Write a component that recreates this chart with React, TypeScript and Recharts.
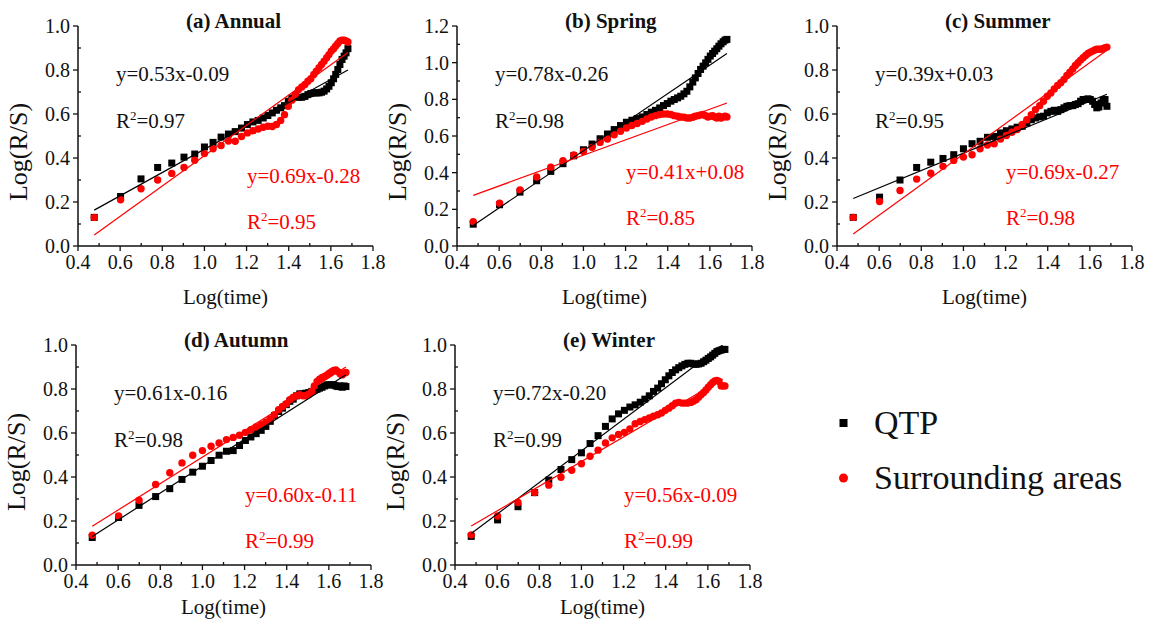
import React from "react";
import { ScatterChart, Scatter, XAxis, YAxis } from "recharts";

// log10 of the window length (3..48)
const logTime = [
  0.477, 0.602, 0.699, 0.778, 0.845, 0.903, 0.954, 1.0, 1.041, 1.079, 1.114,
  1.146, 1.176, 1.204, 1.23, 1.255, 1.279, 1.301, 1.322, 1.342, 1.362, 1.38,
  1.398, 1.415, 1.431, 1.447, 1.462, 1.477, 1.491, 1.505, 1.519, 1.531, 1.544,
  1.556, 1.568, 1.58, 1.591, 1.602, 1.613, 1.623, 1.633, 1.643, 1.653, 1.663,
  1.672, 1.681,
];

const annualQtp = [
  0.13, 0.225, 0.305, 0.357, 0.377, 0.404, 0.418, 0.45, 0.471, 0.495, 0.509,
  0.52, 0.536, 0.552, 0.564, 0.571, 0.582, 0.593, 0.605, 0.617, 0.628, 0.638,
  0.658, 0.672, 0.678, 0.676, 0.676, 0.68, 0.688, 0.693, 0.696, 0.696, 0.696,
  0.699, 0.704, 0.714, 0.726, 0.742, 0.76, 0.78, 0.802, 0.825, 0.848, 0.863,
  0.878, 0.897,
];
const annualSur = [
  0.13, 0.21, 0.26, 0.3, 0.33, 0.357, 0.39, 0.42, 0.442, 0.457, 0.477, 0.476,
  0.498, 0.514, 0.524, 0.532, 0.54, 0.544, 0.543, 0.552, 0.571, 0.597, 0.635,
  0.663, 0.688, 0.711, 0.723, 0.734, 0.749, 0.76, 0.78, 0.795, 0.81, 0.825,
  0.84, 0.856, 0.87, 0.886, 0.897, 0.909, 0.921, 0.932, 0.936, 0.935, 0.932,
  0.927,
];

const springQtp = [
  0.119, 0.225, 0.294, 0.356, 0.407, 0.449, 0.492, 0.525, 0.556, 0.585, 0.611,
  0.635, 0.657, 0.675, 0.686, 0.695, 0.704, 0.717, 0.73, 0.74, 0.753, 0.766,
  0.777, 0.79, 0.799, 0.808, 0.817, 0.83, 0.844, 0.868, 0.894, 0.917, 0.941,
  0.963, 0.981, 0.999, 1.018, 1.036, 1.05, 1.063, 1.076, 1.09, 1.103, 1.114,
  1.123, 1.127,
];
const springSur = [
  0.133, 0.233, 0.306, 0.376, 0.43, 0.465, 0.496, 0.516, 0.538, 0.565, 0.584,
  0.607, 0.626, 0.644, 0.657, 0.668, 0.68, 0.693, 0.704, 0.711, 0.717, 0.72,
  0.72, 0.717, 0.711, 0.708, 0.704, 0.702, 0.698, 0.698, 0.702, 0.708, 0.711,
  0.715, 0.717, 0.711, 0.704, 0.708, 0.711, 0.704, 0.698, 0.708, 0.698, 0.704,
  0.708, 0.704,
];

const summerQtp = [
  0.13, 0.222, 0.3, 0.357, 0.381, 0.398, 0.415, 0.442, 0.465, 0.476, 0.494,
  0.498, 0.514, 0.524, 0.532, 0.54, 0.544, 0.559, 0.574, 0.582, 0.587, 0.59,
  0.605, 0.612, 0.617, 0.612, 0.62, 0.628, 0.635, 0.638, 0.638, 0.643, 0.647,
  0.658, 0.666, 0.666, 0.669, 0.666, 0.658, 0.643, 0.628, 0.632, 0.65, 0.663,
  0.666, 0.635,
];
const summerSur = [
  0.13, 0.202, 0.252, 0.304, 0.331, 0.362, 0.389, 0.404, 0.415, 0.442, 0.459,
  0.465, 0.486, 0.502, 0.517, 0.529, 0.552, 0.574, 0.597, 0.62, 0.638, 0.658,
  0.681, 0.696, 0.714, 0.73, 0.742, 0.757, 0.775, 0.79, 0.805, 0.821, 0.833,
  0.845, 0.856, 0.866, 0.875, 0.881, 0.886, 0.891, 0.894, 0.894, 0.894, 0.897,
  0.901, 0.904,
];

const autumnQtp = [
  0.125, 0.216, 0.271, 0.311, 0.347, 0.389, 0.422, 0.449, 0.475, 0.499, 0.517,
  0.52, 0.543, 0.566, 0.582, 0.597, 0.612, 0.63, 0.653, 0.679, 0.698, 0.713,
  0.729, 0.744, 0.754, 0.769, 0.778, 0.778, 0.781, 0.784, 0.789, 0.796, 0.799,
  0.804, 0.808, 0.814, 0.819, 0.819, 0.819, 0.819, 0.814, 0.811, 0.814, 0.808,
  0.814, 0.811,
];
const autumnSur = [
  0.136, 0.223, 0.294, 0.366, 0.419, 0.464, 0.499, 0.52, 0.54, 0.555, 0.57,
  0.58, 0.59, 0.603, 0.615, 0.627, 0.638, 0.649, 0.664, 0.683, 0.706, 0.721,
  0.733, 0.751, 0.763, 0.769, 0.774, 0.769, 0.769, 0.774, 0.789, 0.814, 0.834,
  0.845, 0.852, 0.857, 0.864, 0.872, 0.879, 0.884, 0.887, 0.879, 0.869, 0.864,
  0.872, 0.875,
];

const winterQtp = [
  0.13, 0.205, 0.265, 0.329, 0.386, 0.434, 0.479, 0.51, 0.552, 0.588, 0.63,
  0.664, 0.687, 0.703, 0.718, 0.728, 0.74, 0.754, 0.769, 0.789, 0.804, 0.824,
  0.842, 0.86, 0.875, 0.887, 0.897, 0.905, 0.912, 0.917, 0.917, 0.914, 0.912,
  0.914, 0.917, 0.924, 0.931, 0.939, 0.946, 0.954, 0.962, 0.97, 0.974, 0.977,
  0.98, 0.98,
];
const winterSur = [
  0.137, 0.223, 0.284, 0.329, 0.363, 0.399, 0.431, 0.46, 0.494, 0.522, 0.555,
  0.578, 0.593, 0.603, 0.618, 0.642, 0.652, 0.661, 0.668, 0.676, 0.683, 0.691,
  0.703, 0.713, 0.724, 0.736, 0.739, 0.736, 0.736, 0.736, 0.739, 0.744, 0.751,
  0.763, 0.774, 0.784, 0.796, 0.808, 0.819, 0.83, 0.837, 0.839, 0.834, 0.814,
  0.814, 0.814,
];

// fitted lines, end points
const annualFitQtp = [[0.477, 0.163], [1.681, 0.8]];
const annualFitSur = [[0.477, 0.05], [1.681, 0.88]];
const springFitQtp = [[0.477, 0.112], [1.681, 1.05]];
const springFitSur = [[0.477, 0.276], [1.681, 0.78]];
const summerFitQtp = [[0.477, 0.216], [1.681, 0.69]];
const summerFitSur = [[0.477, 0.055], [1.681, 0.89]];
const autumnFitQtp = [[0.477, 0.13], [1.681, 0.865]];
const autumnFitSur = [[0.477, 0.176], [1.681, 0.9]];
const winterFitQtp = [[0.477, 0.143], [1.67, 1.0]];
const winterFitSur = [[0.477, 0.177], [1.67, 0.845]];

const xTicks = [0.4, 0.5, 0.6, 0.7, 0.8, 0.9, 1.0, 1.1, 1.2, 1.3, 1.4, 1.5, 1.6, 1.7, 1.8];
const yTicks10 = [0, 0.1, 0.2, 0.3, 0.4, 0.5, 0.6, 0.7, 0.8, 0.9, 1.0];
const yTicks12 = [0, 0.1, 0.2, 0.3, 0.4, 0.5, 0.6, 0.7, 0.8, 0.9, 1.0, 1.1, 1.2];

const FONT = '"Liberation Serif", "Times New Roman", serif';
const RED = "#ff0000";
const INK = "#111";

const toPoints = (ys: number[]) => logTime.map((x, i) => ({ x, y: ys[i] }));
const toLine = (pts: number[][]) => pts.map(([x, y]) => ({ x, y }));
const isMajor = (v: number) => Math.round(v * 10) % 2 === 0;

const XTick = (props: any) => {
  const { x, y, payload } = props;
  const major = isMajor(payload.value);
  return (
    <g>
      <line x1={x} x2={x} y1={y} y2={major ? y + 5 : y - 3} stroke={INK} strokeWidth={1.3} />
      {major && (
        <text x={x} y={y + 23} textAnchor="middle" fontFamily={FONT} fontSize={20} fill={INK}>
          {payload.value.toFixed(1)}
        </text>
      )}
    </g>
  );
};

const YTick = (props: any) => {
  const { x, y, payload } = props;
  const major = isMajor(payload.value);
  return (
    <g>
      <line x1={x} x2={major ? x - 5 : x + 3} y1={y} y2={y} stroke={INK} strokeWidth={1.3} />
      {major && (
        <text x={x - 8} y={y + 7} textAnchor="end" fontFamily={FONT} fontSize={20} fill={INK}>
          {payload.value.toFixed(1)}
        </text>
      )}
    </g>
  );
};

const Square = (props: any) => (
  <rect x={props.cx - 3.5} y={props.cy - 3.5} width={7} height={7} fill="#000" />
);
const Dot = (props: any) => <circle cx={props.cx} cy={props.cy} r={3.7} fill={RED} />;
const NoShape = () => <g />;

type PanelProps = {
  title: string;
  left: number;
  top: number;
  yMax: number;
  qtp: number[];
  sur: number[];
  fitQtp: number[][];
  fitSur: number[][];
  eqQtp: string;
  r2Qtp: string;
  eqSur: string;
  r2Sur: string;
  redDy: number;
  xTitleDy: number;
  yTitleY: number;
};

const PLOT_W = 295;
const PLOT_H = 220;
const Y_W = 60;
const RIGHT = 24;

const Eq: React.FC<{ x: number; y: number; color: string; children: React.ReactNode }> = ({ x, y, color, children }) => (
  <div
    style={{
      position: "absolute",
      left: x,
      top: y,
      transform: "translateY(-50%)",
      color,
      fontFamily: FONT,
      fontSize: 21,
      lineHeight: 1,
      whiteSpace: "nowrap",
    }}
  >
    {children}
  </div>
);

const R2: React.FC<{ value: string }> = ({ value }) => (
  <>
    R<span style={{ fontSize: 13, position: "relative", top: -8 }}>2</span>={value}
  </>
);

const Panel: React.FC<PanelProps> = (p) => {
  const yTicks = p.yMax > 1.05 ? yTicks12 : yTicks10;
  return (
    <>
      <div style={{ position: "absolute", left: p.left - Y_W, top: p.top - 10 }}>
        <ScatterChart
          width={Y_W + PLOT_W + RIGHT}
          height={PLOT_H + 10 + 30}
          margin={{ top: 10, right: RIGHT, bottom: 0, left: 0 }}
        >
          <XAxis
            type="number"
            dataKey="x"
            domain={[0.4, 1.8]}
            ticks={xTicks}
            interval={0}
            height={30}
            tickSize={0}
            tickMargin={0}
            tickLine={false}
            axisLine={{ stroke: INK, strokeWidth: 1.5 }}
            tick={<XTick />}
            allowDataOverflow
          />
          <YAxis
            type="number"
            dataKey="y"
            domain={[0, p.yMax]}
            ticks={yTicks}
            interval={0}
            width={Y_W}
            tickSize={0}
            tickMargin={0}
            tickLine={false}
            axisLine={{ stroke: INK, strokeWidth: 1.5 }}
            tick={<YTick />}
            allowDataOverflow
          />
          <Scatter data={toPoints(p.qtp)} shape={<Square />} isAnimationActive={false} />
          <Scatter data={toPoints(p.sur)} shape={<Dot />} isAnimationActive={false} />
          <Scatter
            data={toLine(p.fitQtp)}
            line={{ stroke: "#000", strokeWidth: 1.2 }}
            shape={<NoShape />}
            isAnimationActive={false}
          />
          <Scatter
            data={toLine(p.fitSur)}
            line={{ stroke: RED, strokeWidth: 1.2 }}
            shape={<NoShape />}
            isAnimationActive={false}
          />
        </ScatterChart>
      </div>
      <div
        style={{
          position: "absolute",
          left: p.left + 108,
          top: p.top - 5,
          transform: "translateY(-50%)",
          fontFamily: FONT,
          fontWeight: "bold",
          fontSize: 21,
          lineHeight: 1,
          whiteSpace: "nowrap",
          color: INK,
        }}
      >
        {p.title}
      </div>
      <Eq x={p.left + 38} y={p.top + 48} color={INK}>{p.eqQtp}</Eq>
      <Eq x={p.left + 38} y={p.top + 95} color={INK}><R2 value={p.r2Qtp} /></Eq>
      <Eq x={p.left + 169} y={p.top + p.redDy} color={RED}>{p.eqSur}</Eq>
      <Eq x={p.left + 169} y={p.top + p.redDy + 46} color={RED}><R2 value={p.r2Sur} /></Eq>
      <div
        style={{
          position: "absolute",
          left: p.left + PLOT_W / 2,
          top: p.top + PLOT_H + p.xTitleDy,
          transform: "translate(-50%, -50%)",
          fontFamily: FONT,
          fontSize: 21,
          lineHeight: 1,
          whiteSpace: "nowrap",
          color: INK,
        }}
      >
        Log(time)
      </div>
      <div
        style={{
          position: "absolute",
          left: p.left - 59,
          top: p.yTitleY,
          transform: "translate(-50%, -50%) rotate(-90deg)",
          fontFamily: FONT,
          fontSize: 26,
          lineHeight: 1,
          whiteSpace: "nowrap",
          color: INK,
        }}
      >
        Log(R/S)
      </div>
    </>
  );
};

export default function App() {
  return (
    <div
      style={{
        position: "absolute",
        left: 0,
        top: 0,
        width: 1164,
        height: 631,
        background: "#fff",
        overflow: "hidden",
      }}
    >
      <Panel
        title="(a) Annual" left={78} top={26} yMax={1.0}
        qtp={annualQtp} sur={annualSur} fitQtp={annualFitQtp} fitSur={annualFitSur}
        eqQtp="y=0.53x-0.09" r2Qtp="0.97" eqSur="y=0.69x-0.28" r2Sur="0.95"
        redDy={150} xTitleDy={51} yTitleY={152}
      />
      <Panel
        title="(b) Spring" left={457} top={26} yMax={1.2}
        qtp={springQtp} sur={springSur} fitQtp={springFitQtp} fitSur={springFitSur}
        eqQtp="y=0.78x-0.26" r2Qtp="0.98" eqSur="y=0.41x+0.08" r2Sur="0.85"
        redDy={146} xTitleDy={51} yTitleY={152}
      />
      <Panel
        title="(c) Summer" left={837} top={26} yMax={1.0}
        qtp={summerQtp} sur={summerSur} fitQtp={summerFitQtp} fitSur={summerFitSur}
        eqQtp="y=0.39x+0.03" r2Qtp="0.95" eqSur="y=0.69x-0.27" r2Sur="0.98"
        redDy={146} xTitleDy={51} yTitleY={152}
      />
      <Panel
        title="(d) Autumn" left={76} top={345} yMax={1.0}
        qtp={autumnQtp} sur={autumnSur} fitQtp={autumnFitQtp} fitSur={autumnFitSur}
        eqQtp="y=0.61x-0.16" r2Qtp="0.98" eqSur="y=0.60x-0.11" r2Sur="0.99"
        redDy={150} xTitleDy={42} yTitleY={462}
      />
      <Panel
        title="(e) Winter" left={455} top={345} yMax={1.0}
        qtp={winterQtp} sur={winterSur} fitQtp={winterFitQtp} fitSur={winterFitSur}
        eqQtp="y=0.72x-0.20" r2Qtp="0.99" eqSur="y=0.56x-0.09" r2Sur="0.99"
        redDy={150} xTitleDy={42} yTitleY={462}
      />

      {/* legend */}
      <svg style={{ position: "absolute", left: 836, top: 414 }} width={16} height={72}>
        <rect x={3.5} y={5} width={8} height={8} fill="#000" />
        <circle cx={7.5} cy={64} r={4.5} fill={RED} />
      </svg>
      <div
        style={{
          position: "absolute",
          left: 874,
          top: 423,
          transform: "translateY(-50%)",
          fontFamily: FONT,
          fontSize: 34,
          lineHeight: 1,
          whiteSpace: "nowrap",
          color: INK,
        }}
      >
        QTP
      </div>
      <div
        style={{
          position: "absolute",
          left: 874,
          top: 478,
          transform: "translateY(-50%)",
          fontFamily: FONT,
          fontSize: 34,
          lineHeight: 1,
          whiteSpace: "nowrap",
          color: INK,
        }}
      >
        Surrounding areas
      </div>
    </div>
  );
}
